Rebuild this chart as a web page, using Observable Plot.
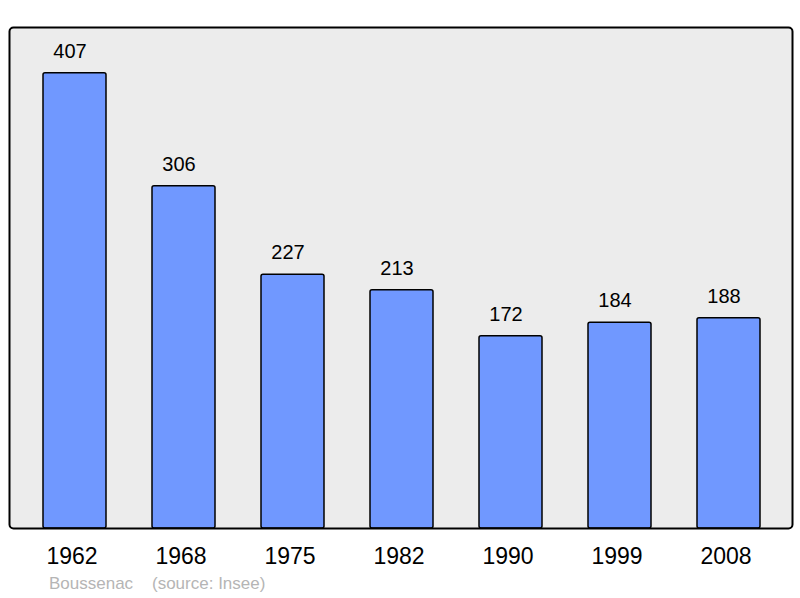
<!DOCTYPE html>
<html>
<head>
<meta charset="utf-8">
<script src="https://cdn.jsdelivr.net/npm/d3@7"></script>
<script src="https://cdn.jsdelivr.net/npm/@observablehq/plot@0.6"></script>
<style>
  html, body { margin: 0; padding: 0; background: #fff; }
  #wrap { position: relative; width: 800px; height: 598px; font-family: "Liberation Sans", Arial, sans-serif; }
  #caption { position: absolute; left: 49px; top: 574px; font-size: 17px; color: #b5b5b5; white-space: pre; }
</style>
</head>
<body>
<div id="wrap">
  <div id="chart"></div>
  <div id="caption">Boussenac    (source: Insee)</div>
</div>
<script>
const years = ["1962", "1968", "1975", "1982", "1990", "1999", "2008"];
const population = [407, 306, 227, 213, 172, 184, 188];

const data = years.map((y, i) => ({year: y, pop: population[i]}));

const chart = Plot.plot({
  width: 800,
  height: 570,
  marginTop: 27,
  marginBottom: 42,
  marginLeft: 9,
  marginRight: 8,
  style: {fontFamily: "Liberation Sans, Arial, sans-serif", background: "transparent"},
  x: {domain: years, range: [41.5, 761.5], paddingInner: 0.425, paddingOuter: 0, axis: null},
  y: {domain: [0, 448], axis: null},
  marks: [
    Plot.frame({fill: "#ececec", stroke: null, rx: 4}),
    Plot.barY(data, {x: "year", y: "pop", fill: "#7098ff", stroke: "#000", strokeWidth: 1.5, rx: 2}),
    Plot.text(data, {x: "year", y: "pop", text: d => String(d.pop), dy: -22, dx: -5, fontSize: 20, fill: "#000"}),
    Plot.text(data, {x: "year", y: () => 0, text: "year", dy: 28, dx: -3, fontSize: 23, fill: "#000"}),
    Plot.frame({fill: "none", stroke: "#000", strokeWidth: 2, rx: 4})
  ]
});
document.getElementById("chart").appendChild(chart);
</script>
</body>
</html>
